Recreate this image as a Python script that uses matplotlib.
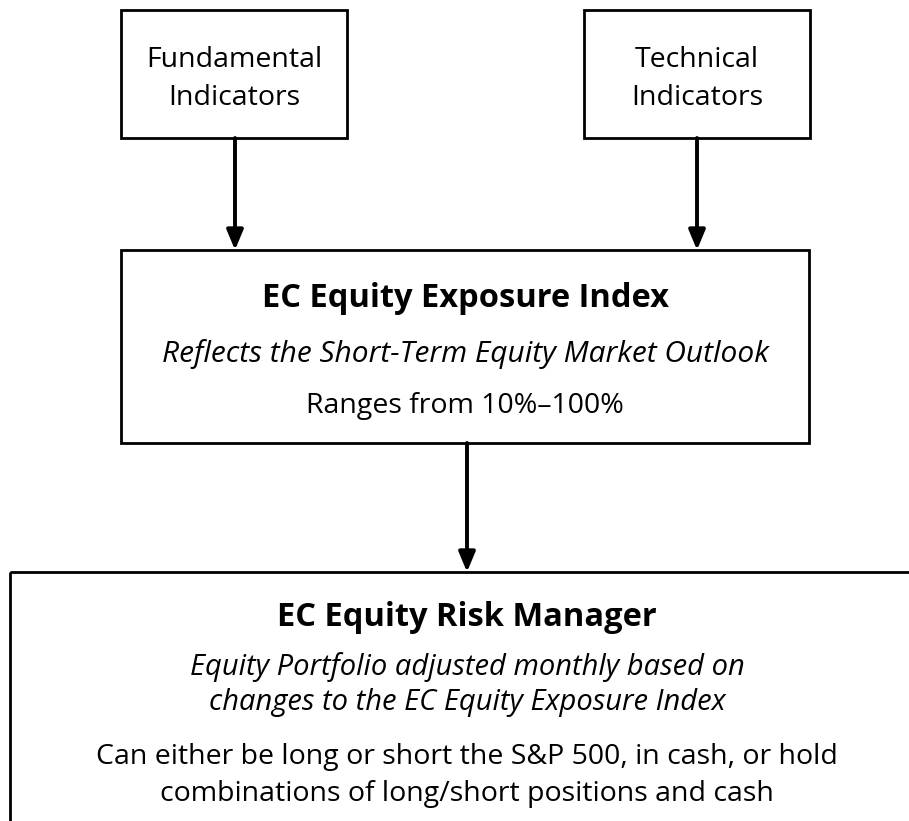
import matplotlib.pyplot as plt
from matplotlib.patches import Rectangle

plt.rcParams['font.family'] = ['Open Sans', 'DejaVu Sans']

W, H = 909, 821

# boxes: (x0, y0, x1, y1) in pixel space, y going down
boxes = {
    "fund": (121, 10, 347, 138),
    "tech": (584, 10, 810, 138),
    "index": (121, 250, 809, 443),
    "risk": (10, 572, 940, 860),
}

fund_lines = ["Fundamental", "Indicators"]
tech_lines = ["Technical", "Indicators"]
index_title = "EC Equity Exposure Index"
index_sub = "Reflects the Short-Term Equity Market Outlook"
index_range = "Ranges from 10%\u2013100%"
risk_title = "EC Equity Risk Manager"
risk_sub = ["Equity Portfolio adjusted monthly based on",
            "changes to the EC Equity Exposure Index"]
risk_body = ["Can either be long or short the S&P 500, in cash, or hold",
             "combinations of long/short positions and cash"]

arrows = [(235, 138, 250), (697, 138, 250), (467, 443, 572)]

fig = plt.figure(figsize=(W / 100, H / 100), dpi=100)
ax = fig.add_axes([0, 0, 1, 1])
ax.set_xlim(0, W)
ax.set_ylim(H, 0)
ax.axis("off")

for x0, y0, x1, y1 in boxes.values():
    ax.add_patch(Rectangle((x0, y0), x1 - x0, y1 - y0, fill=False,
                           edgecolor="black", lw=2.0))

for x, ya, yb in arrows:
    ax.annotate("", xy=(x, yb), xytext=(x, ya),
                arrowprops=dict(arrowstyle="-|>,head_length=1.2,head_width=0.5",
                                lw=2.8, color="black", shrinkA=0, shrinkB=0))


def put(x, y, s, **kw):
    ax.text(x, y, s, ha="center", va="baseline", **kw)


for y, s in zip([67, 105], fund_lines):
    put(234, y, s, fontsize=20.5)
for y, s in zip([67, 105], tech_lines):
    put(697, y, s, fontsize=20.5)

put(465, 307, index_title, fontsize=23.5, fontweight="bold")
put(465, 362, index_sub, fontsize=21.5, style="italic")
put(465, 413, index_range, fontsize=20.5)

put(467, 626, risk_title, fontsize=23.5, fontweight="bold")
for y, s in zip([675, 710], risk_sub):
    put(467, y, s, fontsize=21, style="italic")
for y, s in zip([764, 801], risk_body):
    put(467, y, s, fontsize=20.5)

fig.savefig("out.png", dpi=100)
